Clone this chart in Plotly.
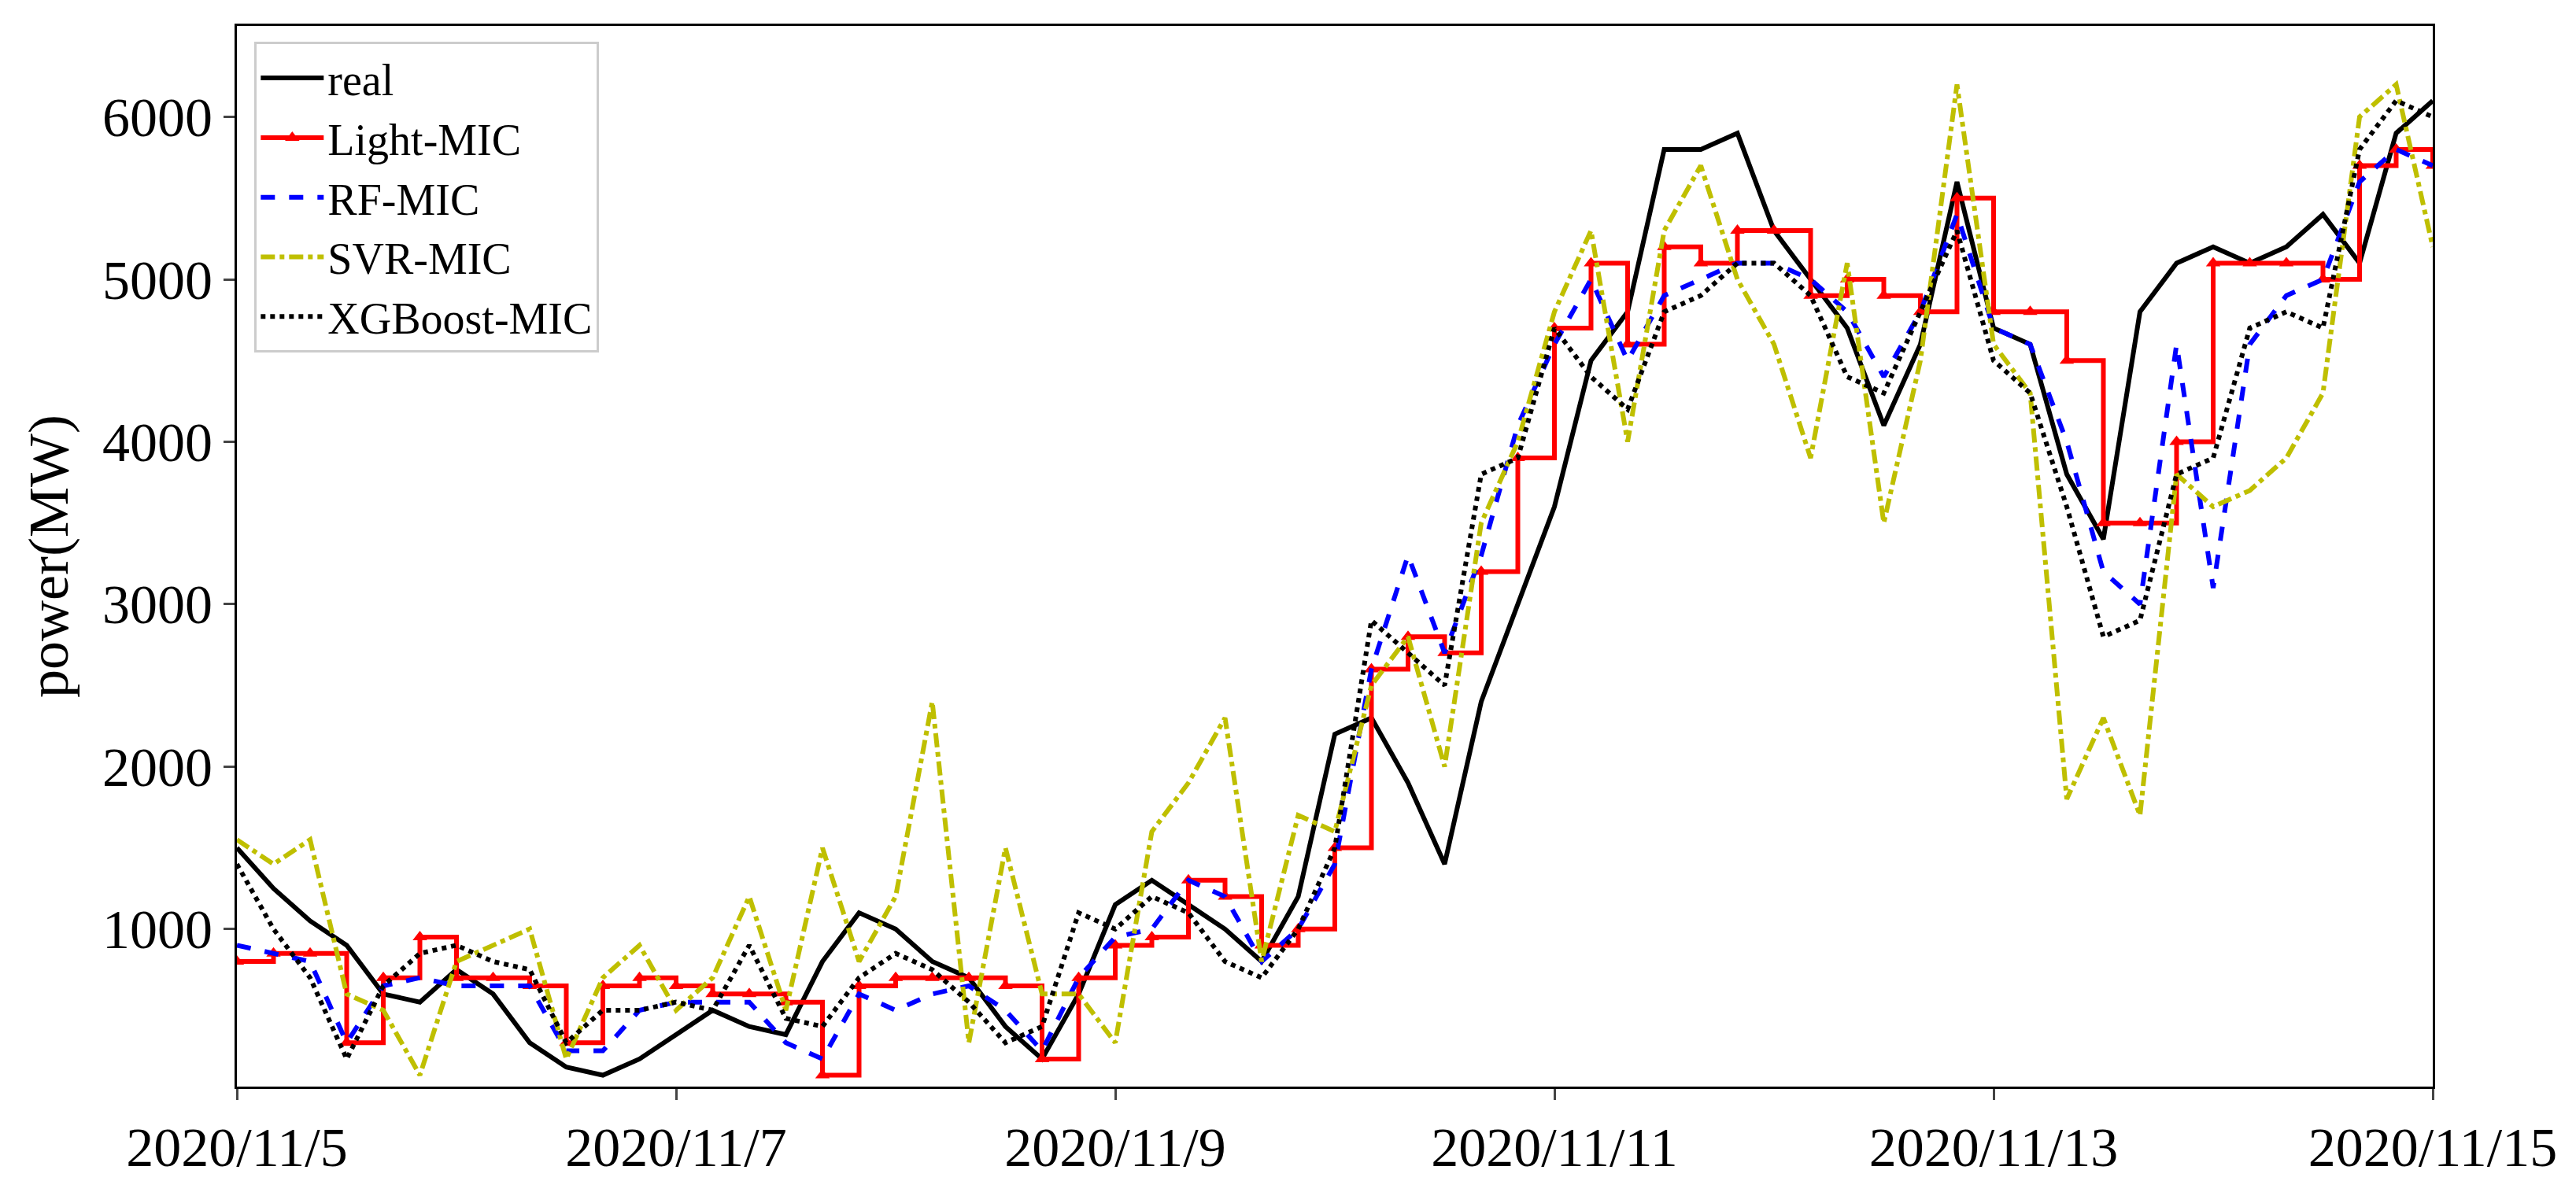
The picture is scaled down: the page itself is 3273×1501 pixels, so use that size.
import pandas as pd
import plotly.graph_objects as go

# 4-hourly readings, 2020/11/5 00:00 .. 2020/11/15 00:00
times = pd.date_range("2020-11-05", "2020-11-15", freq="4h")

real = [1500, 1250, 1050, 900, 600, 550,
        750, 600, 300, 150, 100, 200,
        350, 500, 400, 350, 800, 1100,
        1000, 800, 700, 400, 200, 600,
        1150, 1300, 1150, 1000, 800, 1200,
        2200, 2300, 1900, 1400, 2400, 3000,
        3600, 4500, 4800, 5800, 5800, 5900,
        5300, 5000, 4700, 4100, 4600, 5600,
        4700, 4600, 3800, 3400, 4800, 5100,
        5200, 5100, 5200, 5400, 5100, 5900, 6100]
light_mic = [800, 850, 850, 300, 700, 950,
             700, 700, 650, 300, 650, 700,
             650, 600, 600, 550, 100, 650,
             700, 700, 700, 650, 200, 700,
             900, 950, 1300, 1200, 900, 1000,
             1500, 2600, 2800, 2700, 3200, 3900,
             4700, 5100, 4600, 5200, 5100, 5300,
             5300, 4900, 5000, 4900, 4800, 5500,
             4800, 4800, 4500, 3500, 3500, 4000,
             5100, 5100, 5100, 5000, 5700, 5800, 5700]
rf_mic = [900, 850, 800, 300, 650, 700,
          650, 650, 650, 250, 250, 500,
          550, 550, 550, 300, 200, 600,
          500, 600, 650, 500, 250, 700,
          950, 1000, 1300, 1200, 800, 1000,
          1400, 2600, 3300, 2700, 3300, 4100,
          4600, 5000, 4500, 4900, 5000, 5100,
          5100, 5000, 4800, 4400, 4800, 5400,
          4700, 4600, 4000, 3200, 3000, 4600,
          3100, 4600, 4900, 5000, 5600, 5800, 5700]
svr_mic = [1550, 1400, 1550, 600, 500, 100,
           800, 900, 1000, 200, 700, 900,
           500, 700, 1200, 500, 1500, 800,
           1200, 2400, 300, 1500, 600, 600,
           300, 1600, 1900, 2300, 800, 1700,
           1600, 2500, 2800, 2000, 3500, 4000,
           4800, 5300, 4000, 5300, 5700, 5000,
           4600, 3900, 5100, 3500, 4500, 6200,
           4600, 4300, 1800, 2300, 1700, 3800,
           3600, 3700, 3900, 4300, 6000, 6200, 5200]
xgb_mic = [1400, 1000, 700, 200, 650, 850,
           900, 800, 750, 300, 500, 500,
           550, 500, 900, 450, 400, 700,
           850, 750, 550, 300, 400, 1100,
           1000, 1200, 1100, 800, 700, 1000,
           1500, 2900, 2700, 2500, 3800, 3900,
           4700, 4400, 4200, 4800, 4900, 5100,
           5100, 4900, 4400, 4300, 4800, 5300,
           4500, 4300, 3600, 2800, 2900, 3800,
           3900, 4700, 4800, 4700, 5800, 6100, 6000]

tick_dates = ["2020-11-05", "2020-11-07", "2020-11-09", "2020-11-11", "2020-11-13", "2020-11-15"]
tick_labels = ["2020/11/5", "2020/11/7", "2020/11/9", "2020/11/11", "2020/11/13", "2020/11/15"]

fig = go.Figure()
fig.add_trace(go.Scatter(x=times, y=real, name="real", mode="lines",
                         line=dict(color="black", width=6)))
fig.add_trace(go.Scatter(x=times, y=light_mic, name="Light-MIC", mode="lines+markers",
                         line=dict(color="red", width=6, shape="hv"),
                         marker=dict(symbol="triangle-up", size=16, color="red")))
fig.add_trace(go.Scatter(x=times, y=rf_mic, name="RF-MIC", mode="lines",
                         line=dict(color="blue", width=6, dash="dash")))
fig.add_trace(go.Scatter(x=times, y=svr_mic, name="SVR-MIC", mode="lines",
                         line=dict(color="#bfbf00", width=6, dash="dashdot")))
fig.add_trace(go.Scatter(x=times, y=xgb_mic, name="XGBoost-MIC", mode="lines",
                         line=dict(color="black", width=6, dash="dot")))

axis_style = dict(showline=True, linecolor="black", linewidth=3, mirror=True,
                  showgrid=False, zeroline=False, ticks="outside", ticklen=14,
                  tickwidth=3, tickfont=dict(size=70, color="black"))

fig.update_layout(
    width=3273, height=1501,
    paper_bgcolor="white", plot_bgcolor="white",
    font=dict(family="Liberation Serif", color="black"),
    margin=dict(l=293, r=190, t=25, b=119),
    legend=dict(x=0.008, y=0.985, xanchor="left", yanchor="top",
                bordercolor="#cccccc", borderwidth=3, bgcolor="white",
                font=dict(size=56), itemwidth=80),
    xaxis=dict(range=["2020-11-05", "2020-11-15"], tickvals=tick_dates,
               ticktext=tick_labels, **axis_style),
    yaxis=dict(range=[30, 6560], tickvals=[1000, 2000, 3000, 4000, 5000, 6000],
               title=dict(text="power(MW)", font=dict(size=72), standoff=20), **axis_style),
)
fig.write_html("out.html")
